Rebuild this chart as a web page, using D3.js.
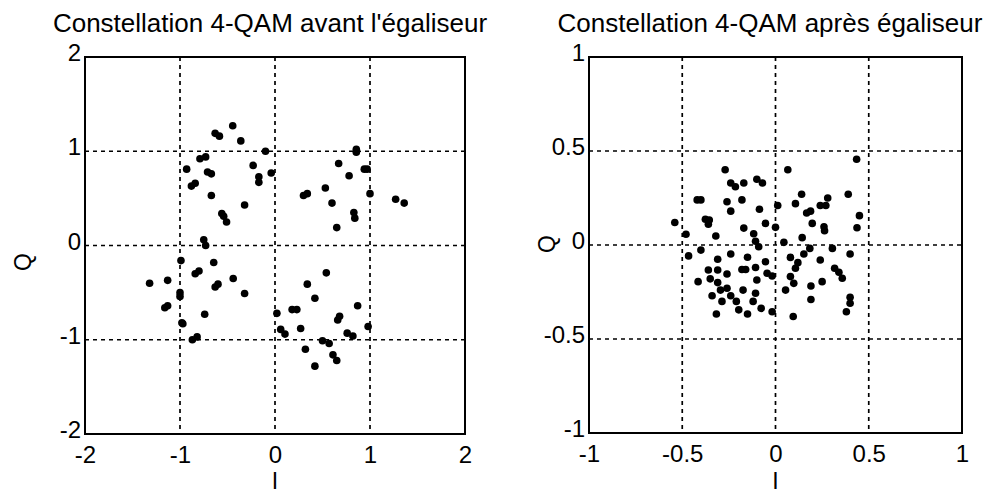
<!DOCTYPE html>
<html>
<head>
<meta charset="utf-8">
<script src="https://cdn.jsdelivr.net/npm/d3@7"></script>
<style>
  body { margin: 0; background: #fff; }
  svg { display: block; }
</style>
</head>
<body>
<div id="chart"></div>
<script>
// constellation before equalizer (I, Q)
const iBefore = [-0.445,-0.63,-0.585,-0.36,-0.10,-0.79,-0.73,-0.93,-0.71,-0.67,-0.23,-0.17,-0.17,-0.04,-0.88,-0.84,-0.67,-0.32,-0.56,-0.54,-0.51,-0.75,-0.73,
  0.856,0.856,0.67,0.78,0.94,0.97,0.53,0.30,0.34,0.60,1.0,0.83,0.84,1.27,1.36,0.65,
  -0.99,-0.645,-0.84,-0.80,-1.32,-1.13,-1.0,-1.0,-0.63,-0.60,-0.44,-0.32,-1.16,-1.13,-0.74,-0.98,-0.97,-0.87,-0.82,
  0.02,0.54,0.34,0.42,0.18,0.23,0.87,0.68,0.66,0.06,0.105,0.27,0.98,0.76,0.82,0.50,0.57,0.32,0.61,0.65,0.42];
const qBefore = [1.27,1.19,1.16,1.11,1.0,0.92,0.94,0.81,0.78,0.76,0.85,0.73,0.67,0.77,0.63,0.66,0.53,0.43,0.34,0.31,0.25,0.06,0.0,
  1.02,0.99,0.87,0.74,0.81,0.81,0.61,0.53,0.55,0.45,0.55,0.35,0.29,0.49,0.45,0.19,
  -0.16,-0.18,-0.30,-0.27,-0.40,-0.37,-0.50,-0.54,-0.44,-0.41,-0.35,-0.51,-0.66,-0.64,-0.73,-0.82,-0.83,-1.0,-0.97,
  -0.72,-0.29,-0.41,-0.56,-0.68,-0.68,-0.64,-0.75,-0.79,-0.89,-0.94,-0.88,-0.86,-0.93,-0.96,-1.01,-1.04,-1.10,-1.16,-1.22,-1.28];

// constellation after equalizer (I, Q)
const iAfter = [-0.27,-0.24,-0.215,-0.17,-0.10,-0.07,-0.42,-0.40,-0.26,-0.18,-0.24,-0.086,-0.54,-0.376,-0.355,-0.36,-0.48,-0.32,-0.17,-0.117,-0.107,-0.054,
  0.435,0.066,0.14,0.28,0.39,0.012,0.107,0.24,0.27,0.167,0.188,0.45,0.197,0.0,0.26,0.263,0.437,0.143,0.045,
  -0.09,-0.40,-0.466,-0.31,-0.24,-0.15,-0.36,-0.31,-0.26,-0.18,-0.16,-0.107,-0.054,-0.415,-0.35,-0.31,-0.10,-0.295,-0.26,-0.174,-0.34,-0.24,-0.107,-0.287,-0.21,-0.12,-0.077,-0.197,-0.317,-0.15,
  0.184,0.152,0.305,0.40,0.08,0.24,0.12,0.107,-0.045,-0.018,0.317,0.34,0.358,0.08,0.098,0.25,0.19,0.054,0.19,0.40,0.40,0.38,-0.018,0.095];
const qAfter = [0.40,0.33,0.31,0.33,0.35,0.33,0.24,0.24,0.23,0.24,0.18,0.19,0.12,0.137,0.133,0.11,0.057,0.048,0.09,0.06,0.02,0.115,
  0.456,0.40,0.27,0.25,0.27,0.21,0.22,0.21,0.21,0.17,0.18,0.156,0.115,0.094,0.097,0.076,0.092,0.039,0.014,
  -0.009,-0.027,-0.058,-0.076,-0.048,-0.065,-0.133,-0.133,-0.154,-0.13,-0.13,-0.12,-0.089,-0.195,-0.18,-0.20,-0.186,-0.24,-0.23,-0.24,-0.27,-0.27,-0.257,-0.30,-0.30,-0.30,-0.337,-0.345,-0.367,-0.367,
  -0.018,-0.048,-0.018,-0.048,-0.066,-0.08,-0.094,-0.124,-0.15,-0.165,-0.124,-0.145,-0.177,-0.168,-0.204,-0.195,-0.218,-0.24,-0.29,-0.278,-0.31,-0.355,-0.355,-0.38];

const ticksBefore = [-2, -1, 0, 1, 2];
const ticksAfter = [-1, -0.5, 0, 0.5, 1];
const titles = ["Constellation 4-QAM avant l'égaliseur", "Constellation 4-QAM après égaliseur"];

const svg = d3.select("#chart").append("svg")
  .attr("width", 997).attr("height", 494)
  .attr("font-family", "'Liberation Sans', Arial, sans-serif");

function panel(left, right, top, bottom, dom, ticks, xs, ys, title, titleX, qPos) {
  const x = d3.scaleLinear().domain(dom).range([left, right]);
  const y = d3.scaleLinear().domain(dom).range([bottom, top]);
  const g = svg.append("g");

  // grid (dotted)
  const inner = ticks.slice(1, -1);
  g.selectAll(".gx").data(inner).join("line")
    .attr("x1", d => x(d)).attr("x2", d => x(d))
    .attr("y1", top).attr("y2", bottom)
    .attr("stroke", "#000").attr("stroke-width", 1.7).attr("stroke-dasharray", "4,4");
  g.selectAll(".gy").data(inner).join("line")
    .attr("y1", d => y(d)).attr("y2", d => y(d))
    .attr("x1", left).attr("x2", right)
    .attr("stroke", "#000").attr("stroke-width", 1.7).attr("stroke-dasharray", "4,4");

  // frame
  g.append("rect")
    .attr("x", left).attr("y", top)
    .attr("width", right - left).attr("height", bottom - top)
    .attr("fill", "none").attr("stroke", "#000").attr("stroke-width", 2);

  // axes
  const fmt = d => String(d);
  const ax = g.append("g").attr("transform", `translate(0,${bottom})`)
    .call(d3.axisBottom(x).tickValues(ticks).tickFormat(fmt).tickSize(0).tickPadding(12));
  const ay = g.append("g").attr("transform", `translate(${left},0)`)
    .call(d3.axisLeft(y).tickValues(ticks).tickFormat(fmt).tickSize(0).tickPadding(4));
  [ax, ay].forEach(a => {
    a.select(".domain").remove();
    a.selectAll("text").attr("font-size", 24).attr("fill", "#000")
      .attr("font-family", "'Liberation Sans', Arial, sans-serif");
  });
  ay.selectAll("text").attr("dy", "0.15em");

  // points
  g.selectAll("circle").data(d3.range(xs.length)).join("circle")
    .attr("cx", i => x(xs[i])).attr("cy", i => y(ys[i]))
    .attr("r", 3.8).attr("fill", "#000");

  // labels
  g.append("text").attr("x", titleX).attr("y", 32)
    .attr("text-anchor", "middle").attr("font-size", 26).text(title);
  g.append("text").attr("x", (left + right) / 2).attr("y", 489)
    .attr("text-anchor", "middle").attr("font-size", 23).text("I");
  g.append("text")
    .attr("transform", `translate(${qPos[0]},${qPos[1]}) rotate(-90)`)
    .attr("text-anchor", "middle").attr("dy", "0.35em").attr("font-size", 23).text("Q");
}

panel(85, 465, 57, 434, [-2, 2], ticksBefore, iBefore, qBefore, titles[0], 270, [23, 262]);
panel(589, 962, 57, 433, [-1, 1], ticksAfter, iAfter, qAfter, titles[1], 770, [547, 244]);
</script>
</body>
</html>
